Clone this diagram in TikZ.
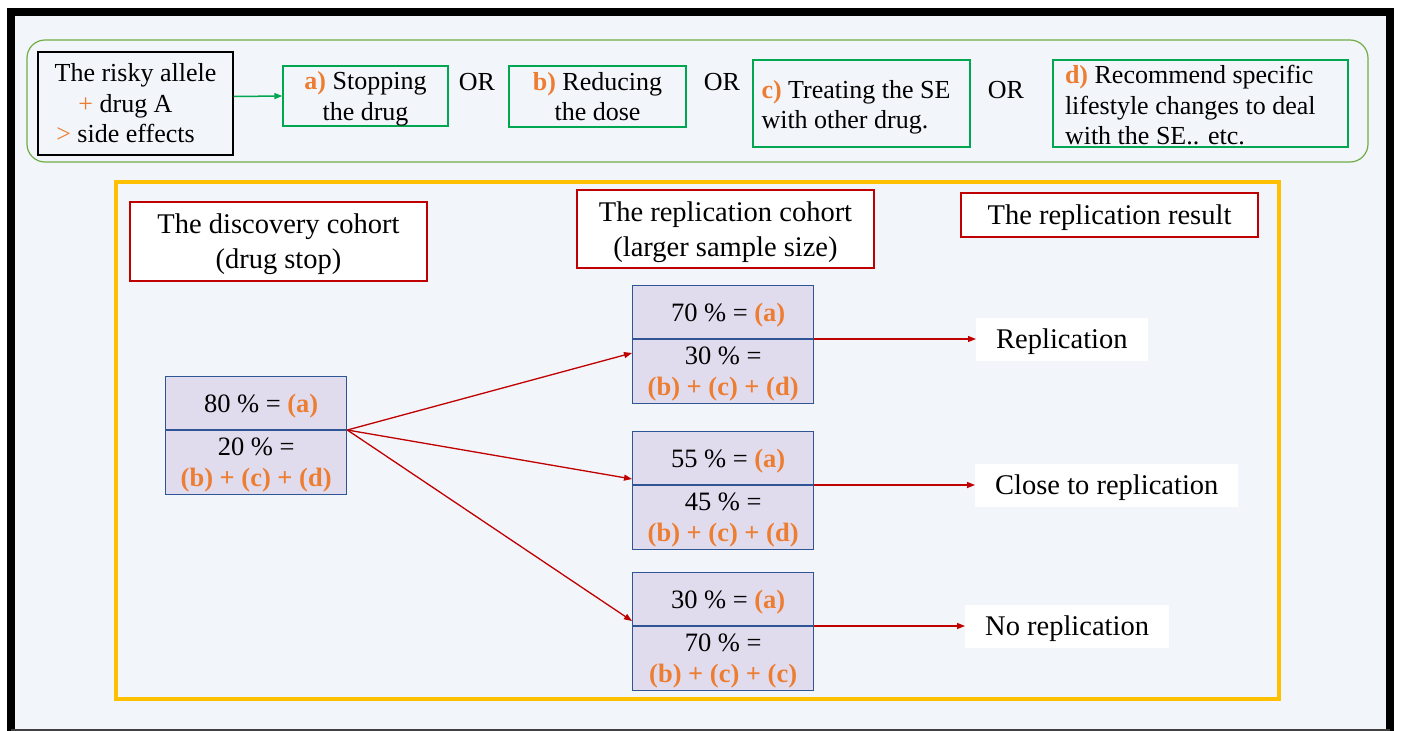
\documentclass[tikz,border=0pt]{standalone}
\usepackage{fontspec}
\setmainfont{Liberation Serif}
\usepackage{tikz}
\usetikzlibrary{positioning,arrows.meta}

\newcommand{\rowsize}{\fontsize{26}{30.5}\selectfont}
\newcommand{\headsize}{\fontsize{28.5}{35}\selectfont}
\newcommand{\pctsize}{\fontsize{26.5}{31}\selectfont}

\begin{document}
\begin{tikzpicture}[x=1pt,y=-1pt,>={Triangle[length=8pt,width=6pt]},
  riskbox/.style={draw=black,line width=1.3,align=center,font=\rowsize,inner sep=0pt},
  optbox/.style={draw=optGreen,line width=1.3,align=flush left,font=\rowsize,inner ysep=0pt},
  optmid/.style={optbox,align=center,inner sep=0pt,text depth=0pt},
  ortext/.style={font=\rowsize,inner sep=0pt},
  headbox/.style={draw=hdRed,fill=white,line width=1.3,align=center,font=\headsize,inner sep=0pt,text depth=0pt},
  pcttop/.style={draw=boxBlue,fill=boxLilac,line width=1.3,font=\pctsize,minimum width=181,minimum height=53,inner sep=0pt,text depth=0pt},
  pctbot/.style={pcttop,align=center,minimum height=64},
  resbox/.style={fill=white,font=\headsize,inner xsep=20pt,minimum height=43,text depth=0pt},
  redarrow/.style={->,draw=arrRed,line width=1.3}]
\definecolor{pageBg}{RGB}{242,245,250}
\definecolor{hiOrange}{RGB}{237,125,49}
\definecolor{groupGreen}{RGB}{112,173,71}
\definecolor{optGreen}{RGB}{0,166,80}
\definecolor{hdRed}{RGB}{192,0,0}
\definecolor{arrRed}{RGB}{192,0,0}
\definecolor{boxBlue}{RGB}{47,85,151}
\definecolor{boxLilac}{RGB}{224,220,238}
\definecolor{frameYellow}{RGB}{255,192,0}
\useasboundingbox (0,0) rectangle (1401,731);
% page and frame
\fill[pageBg] (11,12) rectangle (1390,730);
\draw[line width=8] (11,731) -- (11,11.5) -- (1390,11.5) -- (1390,731);
\draw[black!75,line width=1.5] (11,730) -- (1390,730);
% the options row
\draw[groupGreen,line width=1.2,rounded corners=18] (27,40) rectangle (1368,162);
\node[riskbox,minimum width=195,minimum height=103] (allele) at (135.5,103.5) {The risky allele\\ {\color{hiOrange}+} drug A\hspace*{20pt}\mbox{}\\ {\color{hiOrange}>} side effects\hspace*{20pt}};
\node[optmid,minimum width=165,minimum height=60] (stop) at (365.5,96) {\textbf{\color{hiOrange}a)} Stopping\\ the drug};
\node[ortext] (or1) at (477,82) {OR};
\node[optmid,minimum width=177,minimum height=61] (dose) at (597.5,96.5) {\textbf{\color{hiOrange}b)} Reducing\\ the dose};
\node[ortext] (or2) at (722,82) {OR};
\node[optbox,inner xsep=8.5pt,text width=200,text height=26pt,minimum height=87] (treat) at (861.5,103.5) {\textbf{\color{hiOrange}c)} Treating the SE\\ with other drug.};
\node[ortext] (or3) at (1006,90) {OR};
\node[optbox,inner xsep=12pt,text width=271,text height=22pt,minimum height=87] (life) at (1200.5,103.5) {\textbf{\color{hiOrange}d)} Recommend specific\\ lifestyle changes to deal\\ with the SE.. etc.};
\draw[->,optGreen,line width=1.5] ([yshift=7pt]allele.east) -- (stop.west);
% cohorts
\draw[frameYellow,line width=4] (116,182) rectangle (1279,699);
\node[headbox,minimum width=297,minimum height=79] (disc) at (278.5,241.5) {The discovery cohort\\ (drug stop)};
\node[headbox,minimum width=297,minimum height=78] (repl) at (725.5,229) {The replication cohort\\ (larger sample size)};
\node[headbox,minimum width=297,minimum height=44] (result) at (1109.5,215) {The replication result};
\node[pcttop,anchor=south west] (d-top) at (165,430) {\hspace{10pt}80~\% = \textbf{\color{hiOrange}(a)}};
\node[pctbot,anchor=north west] (d-bot) at (d-top.south west) {20~\% =\\ \textbf{\color{hiOrange}(b) + (c) + (d)}};
\draw[boxBlue,line width=2.2] (d-top.south west) -- (d-top.south east);
\foreach \n/\yt/\pa/\pb/\last/\rx/\rtext in {1/339/70/30/d/976/Replication,2/485/55/45/d/975/Close to replication,3/626/30/70/c/965/No replication}{
  \node[pcttop,anchor=south west] (r\n-top) at (632,\yt) {\hspace{10pt}\pa~\% = \textbf{\color{hiOrange}(a)}};
  \node[pctbot,anchor=north west] (r\n-bot) at (r\n-top.south west) {\pb~\% =\\ \textbf{\color{hiOrange}(b) + (c) + (\last)}};
  \node[resbox,anchor=west] (res\n) at (\rx,\yt) {\rtext};
  \draw[redarrow] (r\n-top.south east) -- (res\n.west);
}
\draw[redarrow] (d-top.south east) -- ([yshift=-14pt]r1-bot.north west);
\draw[redarrow] (d-top.south east) -- ([yshift=6pt]r2-top.south west);
\draw[redarrow] (d-top.south east) -- ([yshift=5pt]r3-top.south west);
\end{tikzpicture}
\end{document}
